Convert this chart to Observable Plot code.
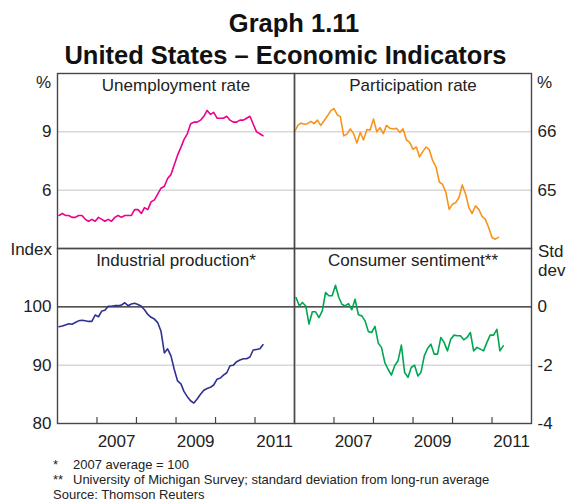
<!DOCTYPE html>
<html>
<head>
<meta charset="utf-8">
<script src="https://cdn.jsdelivr.net/npm/d3@7"></script>
<script src="https://cdn.jsdelivr.net/npm/@observablehq/plot@0.6"></script>
<style>
  html, body { margin: 0; padding: 0; background: #fff; }
  #chart { position: relative; width: 567px; height: 501px; overflow: hidden;
           font-family: "Liberation Sans", Arial, Helvetica, sans-serif; color: #222; }
  .abs { position: absolute; line-height: 1; white-space: nowrap; }
  .panel { position: absolute; }
</style>
</head>
<body>
<div id="chart"></div>
<script>
// ---------------- data ----------------
const title = "Graph 1.11";
const subtitle = "United States – Economic Indicators";
const panelTitles = ["Unemployment rate", "Participation rate", "Industrial production*", "Consumer sentiment**"];
const footnotes = [
  ["*", "2007 average = 100"],
  ["**", "University of Michigan Survey; standard deviation from long-run average"]
];
const source = "Source: Thomson Reuters";

// monthly, from Jan 2006
const unemployment = [
  4.7,4.8,4.7,4.7,4.6,4.6,4.7,4.7,4.5,4.4,4.5,4.4,
  4.6,4.5,4.4,4.5,4.4,4.6,4.7,4.6,4.7,4.7,4.7,5.0,
  5.0,4.8,5.1,5.0,5.4,5.5,5.8,6.1,6.2,6.6,6.8,7.3,
  7.8,8.2,8.6,8.9,9.4,9.5,9.5,9.6,9.8,10.1,9.9,10.0,
  9.7,9.7,9.7,9.8,9.6,9.5,9.5,9.6,9.6,9.7,9.8,9.4,
  9.0,8.9,8.8
];
const participation = [
  66.0,66.11,66.15,66.13,66.14,66.18,66.14,66.2,66.11,66.19,66.27,66.36,
  66.4,66.29,66.26,65.93,65.96,66.05,65.97,65.81,65.99,65.86,66.04,66.03,
  66.22,66.0,66.07,65.97,66.11,66.06,66.05,66.06,65.99,66.05,65.86,65.82,
  65.7,65.74,65.57,65.66,65.74,65.69,65.51,65.4,65.14,65.1,64.96,64.67,
  64.76,64.79,64.87,65.09,64.94,64.7,64.6,64.73,64.67,64.55,64.5,64.36,
  64.19,64.16,64.19
];
const industrialProduction = [
  96.6,96.7,96.9,97.1,97.0,97.3,97.6,97.7,97.6,97.5,97.5,98.6,
  98.3,99.3,99.4,100.1,100.1,100.2,100.2,100.3,100.7,100.2,100.5,100.6,
  100.4,100.1,99.5,98.7,98.2,97.9,97.3,95.8,92.1,92.8,91.6,89.3,
  87.3,86.8,85.5,84.6,83.9,83.5,84.2,85.0,85.7,86.0,86.2,86.6,
  87.6,87.8,88.3,88.7,89.9,90.0,90.6,90.9,91.1,91.1,91.4,92.6,
  92.7,92.8,93.5
];
const consumerSentiment = [
  0.32,0.03,0.15,0.03,-0.59,-0.17,-0.17,-0.37,-0.14,0.49,0.38,0.38,
  0.74,0.32,0.09,0.03,0.11,-0.10,0.26,-0.27,-0.31,-0.48,-0.85,-0.88,
  -0.67,-1.25,-1.39,-1.91,-2.14,-2.34,-2.02,-1.85,-1.31,-2.25,-2.42,-2.08,
  -2.0,-2.37,-2.25,-1.68,-1.43,-1.28,-1.62,-1.62,-1.05,-1.22,-1.51,-1.11,
  -0.97,-0.99,-0.99,-1.13,-1.05,-0.88,-1.51,-1.39,-1.45,-1.51,-1.22,-0.97,
  -0.97,-0.77,-1.51,-1.34
];

const xDomain = [new Date(Date.UTC(2006,0,1)), new Date(Date.UTC(2012,0,1))];
const yearTicks = [2007, 2008, 2009, 2010, 2011].map(y => new Date(Date.UTC(y,0,1)));
const yearLabels = [2007, 2009, 2011].map(y => new Date(Date.UTC(y,6,1)));

const unempTicks = [6, 9], unempDomain = [3, 12];
const partTicks = [65, 66], partDomain = [64, 67];
const ipTicks = [80, 90, 100], ipDomain = [80, 110];
const csTicks = [-4, -2, 0], csDomain = [-4, 2];

const colors = { unemployment: "#ec008c", participation: "#f7941d", ip: "#2e3192", cs: "#00a651" };

// ---------------- helpers ----------------
const series = (vals, day) => vals.map((v, i) => ({ date: new Date(Date.UTC(2006, i, day)), value: v }));

const FRAME = "#474747", GRID = "#c4c4c4", FONT = `"Liberation Sans", Arial, Helvetica, sans-serif`;
const L = 57, M = 294, R = 531, T = 73, MID = 248, B = 423;
const PW = M - L, PH = MID - T;

const chart = document.getElementById("chart");

function addText(txt, opts) {
  const d = document.createElement("div");
  d.className = "abs";
  d.textContent = txt;
  Object.assign(d.style, opts);
  chart.appendChild(d);
  return d;
}

function panel({ left, top, side, data, color, domain, ticks, grid, zero, name, bottom }) {
  const mLeft = side === "left" ? L : 0;
  const mRight = side === "right" ? 567 - R : 0;
  const mBottom = bottom ? 32 : 0;
  const marks = [
    Plot.ruleY(grid, { stroke: GRID, strokeWidth: 1 }),
  ];
  if (zero != null) marks.push(Plot.ruleY([zero], { stroke: "#1a1a1a", strokeWidth: 1.2 }));
  marks.push(
    Plot.axisY({ anchor: side, ticks, tickSize: 0, tickPadding: 6, label: null, tickFormat: d => String(d) }),
    Plot.line(data, { x: "date", y: "value", stroke: color, strokeWidth: 1.6 }),
    Plot.text([name], { frameAnchor: "top", lineAnchor: "top", dy: 5, fill: "#222" })
  );
  if (bottom) {
    marks.push(
      Plot.ruleX(yearTicks, { stroke: FRAME, strokeWidth: 1.2, insetTop: PH - 6 }),
      Plot.axisX({ ticks: yearLabels, tickSize: 0, tickPadding: 11, label: null,
                   tickFormat: d => String(d.getUTCFullYear()) })
    );
  }
  marks.push(Plot.frame({ stroke: FRAME, strokeWidth: 1.4 }));
  const svg = Plot.plot({
    width: PW + mLeft + mRight,
    height: PH + mBottom,
    marginLeft: mLeft, marginRight: mRight, marginTop: 0, marginBottom: mBottom,
    style: { background: "transparent", overflow: "visible", fontFamily: FONT, fontSize: "17px", color: "#222" },
    x: { type: "utc", domain: xDomain, axis: bottom ? undefined : null, label: null },
    y: { domain, label: null },
    marks
  });
  const wrap = document.createElement("div");
  wrap.className = "panel";
  wrap.style.left = left + "px";
  wrap.style.top = top + "px";
  wrap.appendChild(svg);
  chart.appendChild(wrap);
}

panel({ left: 0, top: T, side: "left", data: series(unemployment, 15), color: colors.unemployment,
        domain: unempDomain, ticks: unempTicks, grid: unempTicks, name: panelTitles[0], bottom: false });
panel({ left: M, top: T, side: "right", data: series(participation, 1), color: colors.participation,
        domain: partDomain, ticks: partTicks, grid: partTicks, name: panelTitles[1], bottom: false });
panel({ left: 0, top: MID, side: "left", data: series(industrialProduction, 15), color: colors.ip,
        domain: ipDomain, ticks: ipTicks, grid: [90], zero: 100, name: panelTitles[2], bottom: true });
panel({ left: M, top: MID, side: "right", data: series(consumerSentiment, 15), color: colors.cs,
        domain: csDomain, ticks: csTicks, grid: [-2], zero: 0, name: panelTitles[3], bottom: true });

// ---------------- titles and labels ----------------
const k = 0.8465; // baseline -> top offset factor for line-height:1
function atBaseline(txt, x, baseline, size, extra = {}) {
  return addText(txt, Object.assign({ left: x + "px", top: (baseline - k * size) + "px", fontSize: size + "px" }, extra));
}
const TS = 25.5;
addText(title, { left: "-6px", width: "600px", textAlign: "center", top: (33 - k * TS) + "px", fontSize: TS + "px", fontWeight: "bold", color: "#111" });
addText(subtitle, { left: "-14.5px", width: "600px", textAlign: "center", top: (65 - k * TS) + "px", fontSize: TS + "px", fontWeight: "bold", color: "#111" });

// unit labels
atBaseline("%", 0, 88, 17, { width: "51px", textAlign: "right" });
atBaseline("Index", 0, 255, 17, { width: "52px", textAlign: "right" });
atBaseline("%", 537, 88, 17);
atBaseline("Std", 538, 257, 17);
atBaseline("dev", 538, 276, 17);

// footnotes
footnotes.forEach(([mark, txt], i) => {
  atBaseline(mark, 53, 469 + i * 15, 13);
  atBaseline(txt, 73, 469 + i * 15, 13);
});
atBaseline(source, 53, 499, 13);
</script>
</body>
</html>
